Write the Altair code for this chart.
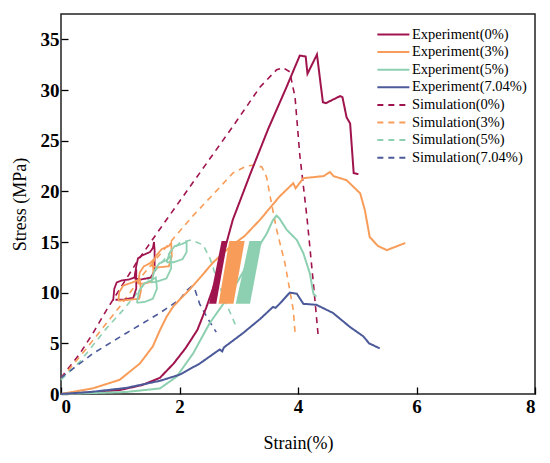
import altair as alt
import pandas as pd

SERIES = ["Experiment(0%)", "Experiment(3%)", "Experiment(5%)", "Experiment(7.04%)",
          "Simulation(0%)", "Simulation(3%)", "Simulation(5%)", "Simulation(7.04%)"]
RED, ORANGE, GREEN, NAVY = "#A0144E", "#F89D59", "#8DD0B1", "#4C5A9A"
COLORS = [RED, ORANGE, GREEN, NAVY] * 2
DASHES = [[1, 0]] * 4 + [[6, 5]] * 4

# ---- experiment curves ----
exp0_x = [0, 0.5, 1.0, 1.38, 1.67, 1.9, 2.1, 2.3, 2.45, 2.6, 2.75, 2.9, 3.2, 3.5, 3.8, 4.03,
          4.13, 4.16, 4.32, 4.42, 4.47, 4.71, 4.75, 4.82, 4.88, 4.94, 5.02]
exp0_y = [0, 0.15, 0.4, 0.9, 1.6, 3.0, 4.5, 6.3, 8.5, 11.0, 14.0, 17.2, 21.8, 26.2, 30.2, 33.4,
          33.3, 31.6, 33.5, 28.8, 28.7, 29.4, 29.3, 27.3, 26.7, 21.8, 21.7]

exp3_x = [0, 0.54, 0.99, 1.33, 1.55, 1.67, 1.78, 1.89, 2.0, 2.17, 2.35, 2.57, 2.85, 3.1, 3.36,
          3.69, 3.92, 3.96, 4.09, 4.26, 4.43, 4.54, 4.6, 4.82, 5.05, 5.13, 5.21, 5.35, 5.5, 5.81]
exp3_y = [0, 0.56, 1.4, 3.0, 4.7, 6.3, 7.6, 8.6, 9.3, 10.3, 11.5, 13.0, 14.5, 15.6, 17.2,
          19.5, 20.8, 20.3, 21.3, 21.4, 21.5, 21.9, 21.5, 21.1, 19.8, 18.1, 15.5, 14.6, 14.2, 14.9]

exp5_x = [0, 1.1, 1.67, 1.95, 2.23, 2.51, 2.74, 2.96, 3.19, 3.47, 3.58, 3.64, 3.69, 3.81, 3.98,
          4.09, 4.2, 4.26, 4.31]
exp5_y = [0, 0.2, 0.55, 1.7, 4.0, 7.0, 8.9, 10.9, 13.2, 15.8, 17.2, 17.6, 17.3, 16.2, 15.2,
          13.9, 11.9, 9.9, 9.6]

exp7_x = [0, 0.5, 1.1, 1.67, 2.0, 2.34, 2.68, 2.72, 2.75, 3.07, 3.36, 3.58, 3.62, 3.69, 3.86,
          3.98, 4.09, 4.31, 4.59, 4.88, 5.1, 5.2, 5.38]
exp7_y = [0, 0.2, 0.6, 1.3, 1.9, 3.0, 4.4, 4.2, 4.6, 6.0, 7.4, 8.6, 8.5, 8.9, 10.0,
          9.9, 8.9, 8.8, 8.0, 6.6, 5.7, 5.0, 4.5]

# ---- cyclic loops (experiment) ----
loop0a_x = [0.88, 0.9, 0.94, 1.02, 1.15, 1.24, 1.27, 1.27, 1.22, 1.05, 0.92]
loop0a_y = [9.2, 10.4, 11.0, 11.2, 11.3, 11.5, 12.3, 10.4, 9.5, 9.3, 9.3]
loop0b_x = [1.24, 1.27, 1.3, 1.38, 1.5, 1.55, 1.57, 1.58, 1.58, 1.52, 1.35, 1.24]
loop0b_y = [11.4, 12.6, 13.4, 13.7, 14.0, 14.4, 15.0, 14.2, 12.2, 11.5, 11.3, 11.4]

loop3a_x = [0.97, 0.98, 1.05, 1.2, 1.33, 1.35, 1.32, 1.15, 0.97]
loop3a_y = [9.2, 10.0, 10.7, 11.0, 11.3, 10.2, 9.4, 9.3, 9.2]
loop3b_x = [1.3, 1.33, 1.4, 1.5, 1.55, 1.56, 1.53, 1.4, 1.3]
loop3b_y = [10.9, 12.0, 12.6, 12.9, 13.2, 12.0, 11.1, 10.9, 10.9]
loop3c_x = [1.53, 1.6, 1.7, 1.82, 1.86, 1.87, 1.82, 1.65, 1.53]
loop3c_y = [12.6, 13.6, 14.3, 14.6, 14.9, 13.6, 12.6, 12.5, 12.6]

loop5a_x = [1.28, 1.32, 1.4, 1.52, 1.6, 1.62, 1.55, 1.42, 1.28]
loop5a_y = [9.0, 10.2, 10.9, 11.2, 11.5, 10.4, 9.4, 9.1, 9.0]
loop5b_x = [1.52, 1.58, 1.66, 1.78, 1.85, 1.86, 1.78, 1.62, 1.52]
loop5b_y = [11.0, 12.2, 12.9, 13.2, 13.6, 12.4, 11.4, 11.1, 11.0]
loop5c_x = [1.78, 1.84, 1.92, 2.04, 2.12, 2.12, 2.05, 1.9, 1.78]
loop5c_y = [13.0, 14.0, 14.6, 14.8, 15.0, 14.0, 13.3, 13.0, 13.0]

# ---- simulation curves ----
sim0_x = [0, 0.32, 0.54, 0.77, 0.91, 1.3, 1.78, 2.34, 2.9, 3.36, 3.64, 3.75, 3.86, 3.95, 4.03,
          4.15, 4.26, 4.34]
sim0_y = [1.6, 4.0, 6.0, 8.3, 9.6, 13.2, 17.2, 21.8, 26.4, 30.3, 32.0, 32.2, 31.8, 29.3, 23.6,
          17.5, 10.9, 5.8]

sim3_x = [0, 0.32, 0.54, 0.77, 0.99, 1.4, 1.89, 2.23, 2.68, 2.9, 3.13, 3.27, 3.39, 3.47, 3.53,
          3.64, 3.78, 3.92, 3.95]
sim3_y = [1.5, 3.7, 5.3, 7.0, 8.6, 11.9, 15.3, 17.6, 20.4, 21.8, 22.5, 22.6, 22.4, 21.4, 19.5,
          16.2, 12.9, 8.3, 6.1]

sim5_x = [0, 0.32, 0.54, 0.77, 1.05, 1.5, 1.8, 2.0, 2.2, 2.4, 2.52, 2.62, 2.79, 2.96]
sim5_y = [1.4, 3.2, 4.8, 6.5, 8.3, 11.5, 13.7, 14.9, 15.2, 14.7, 13.3, 11.5, 8.9, 6.6]

sim7_x = [0, 0.54, 1.1, 1.67, 2.0, 2.12, 2.2, 2.26, 2.34, 2.46, 2.62]
sim7_y = [1.6, 4.0, 6.0, 8.0, 9.3, 10.2, 10.6, 10.3, 8.9, 7.6, 6.1]

# ---- dense cyclic bands ----
band_y = [8.9, 15.1]
band0_l, band0_r = [2.50, 2.71], [2.62, 2.81]
band1_l, band1_r = [2.66, 2.84], [2.91, 3.10]
band2_l, band2_r = [2.95, 3.18], [3.19, 3.39]


def frame(name, piece, xs, ys):
    return pd.DataFrame({"series": name, "piece": piece, "x": xs, "y": ys,
                         "order": list(range(len(xs)))})


exp_df = pd.concat([
    frame(SERIES[0], "m0", exp0_x, exp0_y),
    frame(SERIES[1], "m1", exp3_x, exp3_y),
    frame(SERIES[2], "m2", exp5_x, exp5_y),
    frame(SERIES[3], "m3", exp7_x, exp7_y),
])
loop_df = pd.concat([
    frame(SERIES[0], "a0", loop0a_x, loop0a_y),
    frame(SERIES[0], "b0", loop0b_x, loop0b_y),
    frame(SERIES[1], "a1", loop3a_x, loop3a_y),
    frame(SERIES[1], "b1", loop3b_x, loop3b_y),
    frame(SERIES[1], "c1", loop3c_x, loop3c_y),
    frame(SERIES[2], "a2", loop5a_x, loop5a_y),
    frame(SERIES[2], "b2", loop5b_x, loop5b_y),
    frame(SERIES[2], "c2", loop5c_x, loop5c_y),
])
sim_df = pd.concat([
    frame(SERIES[4], "s0", sim0_x, sim0_y),
    frame(SERIES[5], "s1", sim3_x, sim3_y),
    frame(SERIES[6], "s2", sim5_x, sim5_y),
    frame(SERIES[7], "s3", sim7_x, sim7_y),
])

FONT = "Liberation Serif"
leg = alt.Legend(title=None, orient="none", legendX=315, legendY=10,
                 symbolType="M-1,0H2.5", symbolSize=335, symbolStrokeWidth=2,
                 labelFont=FONT, labelFontSize=14.5, labelColor="black",
                 labelOffset=15, rowPadding=0.6, padding=0)

X = alt.X("x:Q", scale=alt.Scale(domain=[0, 8], nice=False, zero=False),
          axis=alt.Axis(values=[0, 2, 4, 6, 8], title="Strain(%)", titlePadding=18,
                        labelPadding=3))
Y = alt.Y("y:Q", scale=alt.Scale(domain=[0, 37.5], nice=False, zero=False),
          axis=alt.Axis(values=[0, 5, 10, 15, 20, 25, 30, 35], title="Stress (MPa)",
                        titlePadding=11, labelPadding=2))
C = alt.Color("series:N", scale=alt.Scale(domain=SERIES, range=COLORS), sort=SERIES, legend=leg)
D = alt.StrokeDash("series:N", scale=alt.Scale(domain=SERIES, range=DASHES), sort=SERIES, legend=leg)


def band(l, r, col):
    df = pd.DataFrame({"y": band_y, "x": l, "xr": r})
    return alt.Chart(df).mark_area(orient="horizontal", color=col, opacity=1).encode(
        y=Y, x=X, x2="xr:Q")


sim = alt.Chart(sim_df).mark_line(strokeWidth=1.6).encode(
    x=X, y=Y, color=C, strokeDash=D, detail="piece:N", order="order:Q")
exp = alt.Chart(exp_df).mark_line(strokeWidth=2).encode(
    x=X, y=Y, color=C, strokeDash=D, detail="piece:N", order="order:Q")
loops = alt.Chart(loop_df).mark_line(strokeWidth=1.8).encode(
    x=X, y=Y, color=C, strokeDash=D, detail="piece:N", order="order:Q")

chart = alt.layer(
    sim, exp, loops,
    band(band0_l, band0_r, RED), band(band1_l, band1_r, ORANGE), band(band2_l, band2_r, GREEN),
).properties(
    width=474, height=380,
    autosize=alt.AutoSizeParams(type="none"),
    padding={"left": 53, "top": 6, "right": 7, "bottom": 61},
).configure_view(
    stroke="#222", strokeWidth=1.5
).configure_axis(
    labelFont=FONT, labelFontSize=19, labelFontWeight="bold", labelColor="black",
    titleFont=FONT, titleFontSize=18, titleFontWeight="normal", titleColor="black",
    tickColor="black", tickSize=7, tickWidth=1.3, domain=False, grid=False, offset=-7,
)

chart.save("out.html", embed_options={"renderer": "svg", "actions": False})
